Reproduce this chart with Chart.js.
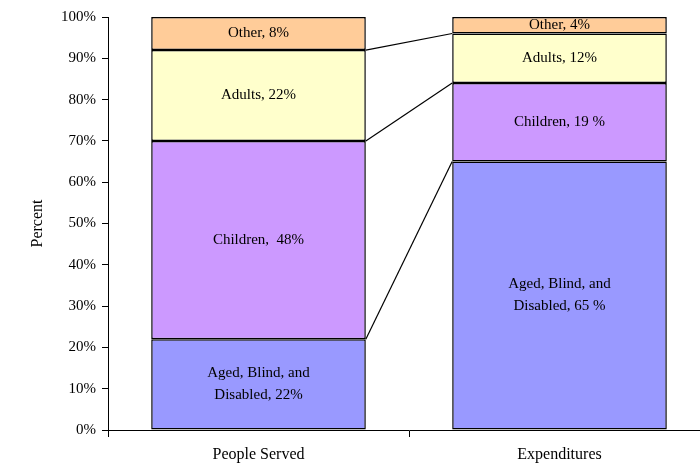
<!DOCTYPE html>
<html>
<head>
<meta charset="utf-8">
<script src="https://cdn.jsdelivr.net/npm/chart.js@4.4.0/dist/chart.umd.min.js"></script>
<style>
  html, body { margin: 0; padding: 0; background: #fff; overflow: hidden; }
  #wrap { width: 710px; height: 465px; }
</style>
</head>
<body>
<div id="wrap"><canvas id="bar-chart"></canvas></div>
<script>
// data
const categories = ['People Served', 'Expenditures'];
const abdValues = [22, 65];
const childrenValues = [48, 19];
const adultsValues = [22, 12];
const otherValues = [8, 4];
const abdLabels = [['Aged, Blind, and', 'Disabled, 22%'], ['Aged, Blind, and', 'Disabled, 65 %']];
const childrenLabels = [['Children,  48%'], ['Children, 19 %']];
const adultsLabels = [['Adults, 22%'], ['Adults, 12%']];
const otherLabels = [['Other, 8%'], ['Other, 4%']];
const yTicks = [0, 10, 20, 30, 40, 50, 60, 70, 80, 90, 100];

const serif = "'Liberation Serif', 'Times New Roman', serif";

function makeSet(name, data, texts, color) {
    return {
        label: name,
        data: data,
        texts: texts,
        backgroundColor: color,
        borderColor: '#000',
        borderWidth: 1.5,
        borderSkipped: false,
        barPercentage: 0.713,
        categoryPercentage: 1
    };
}

// write the labels inside each segment
const segmentLabels = {
    id: 'segmentLabels',
    afterDatasetsDraw(chart) {
        const ctx = chart.ctx;
        ctx.save();
        ctx.fillStyle = '#000';
        ctx.font = '15px ' + serif;
        ctx.textAlign = 'center';
        ctx.textBaseline = 'middle';
        chart.data.datasets.forEach((ds, i) => {
            chart.getDatasetMeta(i).data.forEach((bar, j) => {
                const lines = ds.texts[j];
                const c = bar.getCenterPoint();
                const lh = 22;
                lines.forEach((t, k) => {
                    ctx.fillText(t, c.x, c.y + (k - (lines.length - 1) / 2) * lh);
                });
            });
        });
        ctx.restore();
    }
};

// series lines between the two bars
const seriesLines = {
    id: 'seriesLines',
    afterDatasetsDraw(chart) {
        const ctx = chart.ctx;
        ctx.save();
        ctx.strokeStyle = '#000';
        ctx.lineWidth = 1.2;
        for (let i = 0; i < chart.data.datasets.length - 1; i++) {
            const bars = chart.getDatasetMeta(i).data;
            const a = bars[0], b = bars[1];
            ctx.beginPath();
            ctx.moveTo(a.x + a.width / 2, a.y);
            ctx.lineTo(b.x - b.width / 2, b.y);
            ctx.stroke();
        }
        ctx.restore();
    }
};

new Chart(document.getElementById('bar-chart'), {
    type: 'bar',
    data: {
        labels: categories,
        datasets: [
            makeSet('Aged, Blind, and Disabled', abdValues, abdLabels, '#9999FF'),
            makeSet('Children', childrenValues, childrenLabels, '#CC99FF'),
            makeSet('Adults', adultsValues, adultsLabels, '#FFFFCC'),
            makeSet('Other', otherValues, otherLabels, '#FFCC99')
        ]
    },
    options: {
        responsive: true,
        maintainAspectRatio: false,
        animation: false,
        layout: { padding: { top: 17, left: 0, right: 0, bottom: 0 } },
        plugins: {
            legend: { display: false },
            tooltip: { enabled: false }
        },
        scales: {
            x: {
                stacked: true,
                grid: {
                    offset: true,
                    drawOnChartArea: false,
                    drawTicks: true,
                    tickLength: 7,
                    color: '#000'
                },
                border: { color: '#000', width: 1 },
                ticks: {
                    color: '#000',
                    font: { family: serif, size: 16 },
                    padding: 8
                },
                afterFit(scale) { scale.height = 35; }
            },
            y: {
                stacked: true,
                min: 0,
                max: 100,
                afterBuildTicks(scale) {
                    scale.ticks = yTicks.map(v => ({ value: v }));
                },
                grid: {
                    drawOnChartArea: false,
                    drawTicks: true,
                    tickLength: 6,
                    color: '#000'
                },
                border: { color: '#000', width: 1 },
                ticks: {
                    color: '#000',
                    font: { family: serif, size: 15 },
                    padding: 6,
                    callback: v => v + '%'
                },
                title: {
                    display: true,
                    text: 'Percent',
                    color: '#000',
                    font: { family: serif, size: 16 },
                    padding: { top: 28, bottom: 0 }
                },
                afterFit(scale) { scale.width = 108; }
            }
        }
    },
    plugins: [seriesLines, segmentLabels]
});
</script>
</body>
</html>
